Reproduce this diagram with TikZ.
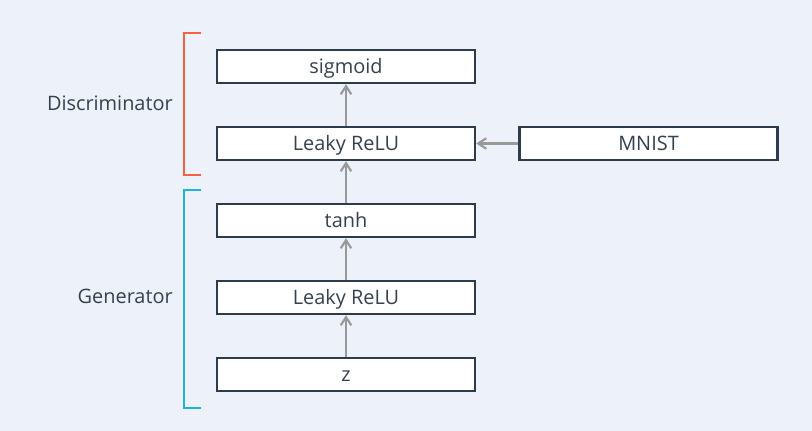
\documentclass[tikz,border=0pt]{standalone}
\usepackage{fontspec}
\setmainfont{Open Sans}
\usepackage{xcolor}
\usetikzlibrary{arrows.meta, positioning, calc}

\definecolor{bgblue}{HTML}{EDF1F9}
\definecolor{boxline}{HTML}{2E3B4B}
\definecolor{labeltext}{HTML}{36414F}
\definecolor{arrowgray}{HTML}{999999}
\definecolor{discred}{HTML}{F4623F}
\definecolor{gencyan}{HTML}{1DB2E2}

\begin{document}
\begin{tikzpicture}[
    x=0.03cm, y=-0.03cm,
    layer/.style={draw=boxline, line width=2pt, fill=white, minimum width=7.74cm, minimum height=0.99cm, inner sep=0pt, text=labeltext, text height=12pt, text depth=0pt, font=\fontsize{17}{20}\selectfont},
    arrow/.style={-{Straight Barb[length=7pt, width=9pt]}, draw=arrowgray, line width=1.8pt},
    bracket/.style={line width=2pt},
    grouplabel/.style={anchor=east, inner sep=0pt, text=labeltext, text height=12pt, text depth=0pt, font=\fontsize{17}{20}\selectfont}
]
    % background and page size
    \fill[bgblue] (0,0) rectangle (812,431);

    % discriminator
    \node[layer] (sigmoid) at (346,66.5) {sigmoid};
    \node[layer] (dleaky) at (346,143.5) {Leaky ReLU};
    \node[layer] (mnist) at (648.5,143.5) {MNIST};

    % generator
    \node[layer] (tanh) at (346,220.5) {tanh};
    \node[layer] (gleaky) at (346,297.5) {Leaky ReLU};
    \node[layer] (z) at (346,374.5) {z};

    \draw[arrow] (dleaky) -- (sigmoid);
    \draw[arrow] (mnist) -- (dleaky);
    \draw[arrow] (tanh) -- (dleaky);
    \draw[arrow] (gleaky) -- (tanh);
    \draw[arrow] (z) -- (gleaky);

    % brackets
    \draw[bracket, discred] (201,33) -- (184,33) -- (184,175) -- (201,175);
    \draw[bracket, gencyan] (201,190) -- (184,190) -- (184,408) -- (201,408);
    \node[grouplabel] (disc) at (173,103) {Discriminator};
    \node[grouplabel] (gen) at (173,296) {Generator};
\end{tikzpicture}
\end{document}
